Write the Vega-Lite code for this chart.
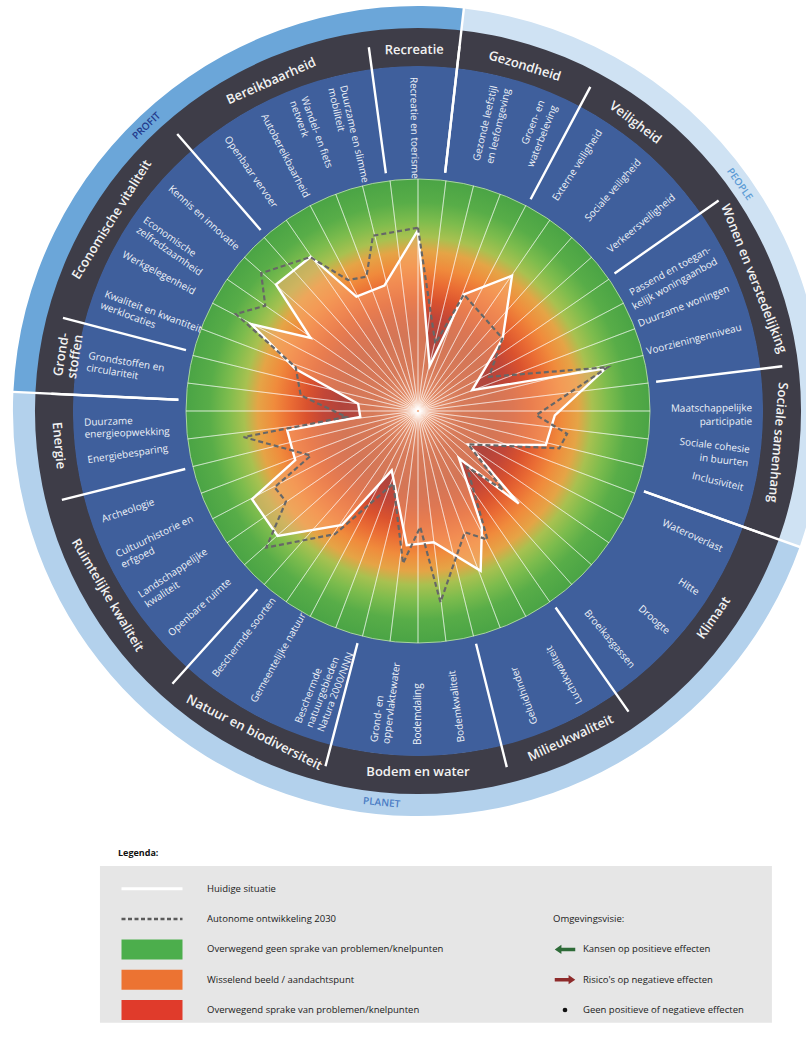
{
  "$schema": "https://vega.github.io/schema/vega-lite/v6.json",
  "width": 806,
  "height": 1043,
  "autosize": {"type": "none"},
  "padding": 0,
  "background": "#ffffff",
  "config": {"view": {"stroke": null}, "text": {"font": "Open Sans"}, "legend": {"disable": true}},
  "datasets": {
    "pijlers": [
      {"pijler": "PROFIT", "a0": -87.3, "a1": 6.5, "la": 316.4},
      {"pijler": "PEOPLE", "a0": 6.5, "a1": 109.6, "la": 54.8},
      {"pijler": "PLANET", "a0": 109.6, "a1": 272.7, "la": 185.3}
    ],
    "themas": [
      {"thema": "Recreatie", "a0": 352.3, "la": 359.4},
      {"thema": "Gezondheid", "a0": 6.5, "la": 17.2},
      {"thema": "Veiligheid", "a0": 28, "la": 37},
      {"thema": "Wonen en verstedelijking", "a0": 55, "la": 68.5},
      {"thema": "Sociale samenhang", "a0": 83, "la": 95},
      {"thema": "Klimaat", "a0": 109.6, "la": 125},
      {"thema": "Milieukwaliteit", "a0": 145, "la": 155},
      {"thema": "Bodem en water", "a0": 166, "la": 180},
      {"thema": "Natuur en biodiversiteit", "a0": 194.6, "la": 207},
      {"thema": "Ruimtelijke kwaliteit", "a0": 222, "la": 239.3},
      {"thema": "Energie", "a0": 256, "la": 264.5},
      {"thema": "Grond-\nstoffen", "a0": 272.7, "la": 279},
      {"thema": "Economische vitaliteit", "a0": 284.7, "la": 302},
      {"thema": "Bereikbaarheid", "a0": 319, "la": 336}
    ],
    "indicatoren": [
      {"naam": "Recreatie en toerisme", "a": 359.2},
      {"naam": "Gezonde leefstijl\nen leefomgeving", "a": 13.2},
      {"naam": "Groen- en\nwaterbeleving", "a": 21.8},
      {"naam": "Externe veiligheid", "a": 33},
      {"naam": "Sociale veiligheid", "a": 41.5},
      {"naam": "Verkeersveiligheid", "a": 50},
      {"naam": "Passend en toegan-\nkelijk woningaanbod", "a": 61},
      {"naam": "Duurzame woningen", "a": 68.5},
      {"naam": "Voorzieningenniveau", "a": 75.5},
      {"naam": "Maatschappelijke\nparticipatie", "a": 89.5},
      {"naam": "Sociale cohesie\nin buurten", "a": 96.7},
      {"naam": "Inclusiviteit", "a": 103.3},
      {"naam": "Wateroverlast", "a": 114.5},
      {"naam": "Hitte", "a": 123},
      {"naam": "Droogte", "a": 131.5},
      {"naam": "Broeikasgassen", "a": 140},
      {"naam": "Luchtkwaliteit", "a": 151},
      {"naam": "Geluidhinder", "a": 159.5},
      {"naam": "Bodemkwaliteit", "a": 172.5},
      {"naam": "Bodemdaling", "a": 180},
      {"naam": "Grond- en\noppervlaktewater", "a": 187.5},
      {"naam": "Beschermde\nnatuurgebieden\nNatura 2000/NNN", "a": 201},
      {"naam": "Gemeentelijke natuur", "a": 209.5},
      {"naam": "Beschermde soorten", "a": 217.5},
      {"naam": "Openbare ruimte", "a": 228},
      {"naam": "Landschappelijke\nkwaliteit", "a": 236.5},
      {"naam": "Cultuurhistorie en\nerfgoed", "a": 244.5},
      {"naam": "Archeologie", "a": 251},
      {"naam": "Energiebesparing", "a": 261.5},
      {"naam": "Duurzame\nenergieopwekking", "a": 268},
      {"naam": "Grondstoffen en\ncirculariteit", "a": 279.5},
      {"naam": "Kwaliteit en kwantiteit\nwerklocaties", "a": 290.5},
      {"naam": "Werkgelegenheid", "a": 298},
      {"naam": "Economische\nzelfredzaamheid", "a": 305},
      {"naam": "Kennis en innovatie", "a": 312},
      {"naam": "Openbaar vervoer", "a": 325},
      {"naam": "Autobereikbaarheid", "a": 332.5},
      {"naam": "Wandel- en fiets\nnetwerk", "a": 340},
      {"naam": "Duurzame en slimme\nmobiliteit", "a": 347}
    ],
    "spaken": [
      {"a": 0}, {"a": 6.92}, {"a": 13.85}, {"a": 20.77}, {"a": 27.69}, {"a": 34.62}, {"a": 41.54}, {"a": 48.46}, {"a": 55.38}, {"a": 62.31}, {"a": 69.23}, {"a": 76.15}, {"a": 83.08},
      {"a": 90}, {"a": 96.92}, {"a": 103.85}, {"a": 110.77}, {"a": 117.69}, {"a": 124.62}, {"a": 131.54}, {"a": 138.46}, {"a": 145.38}, {"a": 152.31}, {"a": 159.23}, {"a": 166.15}, {"a": 173.08},
      {"a": 180}, {"a": 186.92}, {"a": 193.85}, {"a": 200.77}, {"a": 207.69}, {"a": 214.62}, {"a": 221.54}, {"a": 228.46}, {"a": 235.38}, {"a": 242.31}, {"a": 249.23}, {"a": 256.15}, {"a": 263.08},
      {"a": 270}, {"a": 276.92}, {"a": 283.85}, {"a": 290.77}, {"a": 297.69}, {"a": 304.62}, {"a": 311.54}, {"a": 318.46}, {"a": 325.38}, {"a": 332.31}, {"a": 339.23}, {"a": 346.15}, {"a": 353.08}
    ],
    "huidig": [
      {"i": 0, "a": 0, "r": 78}, {"i": 1, "a": 14.5, "r": 20}, {"i": 2, "a": 21.5, "r": 54}, {"i": 3, "a": 34.8, "r": 71},
      {"i": 4, "a": 49.5, "r": 48}, {"i": 5, "a": 69, "r": 25}, {"i": 6, "a": 77.2, "r": 83}, {"i": 7, "a": 91.8, "r": 59},
      {"i": 8, "a": 104.9, "r": 57}, {"i": 9, "a": 123.6, "r": 26}, {"i": 10, "a": 132.6, "r": 59}, {"i": 11, "a": 139.1, "r": 27},
      {"i": 12, "a": 151.1, "r": 57}, {"i": 13, "a": 158.6, "r": 74}, {"i": 14, "a": 173.2, "r": 57}, {"i": 15, "a": 184.8, "r": 58},
      {"i": 16, "a": 203.9, "r": 28}, {"i": 17, "a": 213.7, "r": 59}, {"i": 18, "a": 228.3, "r": 81}, {"i": 19, "a": 242, "r": 81},
      {"i": 20, "a": 248.2, "r": 57}, {"i": 21, "a": 261.6, "r": 57}, {"i": 22, "a": 264.1, "r": 25}, {"i": 23, "a": 277, "r": 26},
      {"i": 24, "a": 289, "r": 56}, {"i": 25, "a": 297.5, "r": 81}, {"i": 26, "a": 304.2, "r": 56}, {"i": 27, "a": 311.7, "r": 82},
      {"i": 28, "a": 325.2, "r": 81}, {"i": 29, "a": 331.7, "r": 56}, {"i": 30, "a": 345, "r": 56}, {"i": 31, "a": 360, "r": 78}
    ],
    "autonoom": [
      {"i": 0, "a": 0, "r": 79}, {"i": 1, "a": 14.4, "r": 30}, {"i": 2, "a": 21.5, "r": 54}, {"i": 3, "a": 49.3, "r": 48},
      {"i": 4, "a": 64.3, "r": 34}, {"i": 5, "a": 77, "r": 84}, {"i": 6, "a": 92, "r": 51}, {"i": 7, "a": 98.7, "r": 65},
      {"i": 8, "a": 104.8, "r": 63}, {"i": 9, "a": 123.6, "r": 26}, {"i": 10, "a": 132.8, "r": 50}, {"i": 11, "a": 138.8, "r": 32},
      {"i": 12, "a": 151.6, "r": 63}, {"i": 13, "a": 158.9, "r": 56}, {"i": 14, "a": 173.3, "r": 83}, {"i": 15, "a": 178.9, "r": 50},
      {"i": 16, "a": 185.6, "r": 66}, {"i": 17, "a": 198.8, "r": 33}, {"i": 18, "a": 214, "r": 64}, {"i": 19, "a": 228, "r": 88},
      {"i": 20, "a": 235.6, "r": 69}, {"i": 21, "a": 242, "r": 70}, {"i": 22, "a": 247.4, "r": 50}, {"i": 23, "a": 261.5, "r": 76},
      {"i": 24, "a": 265.3, "r": 31}, {"i": 25, "a": 277.6, "r": 51}, {"i": 26, "a": 289.7, "r": 56}, {"i": 27, "a": 298, "r": 89},
      {"i": 28, "a": 304.6, "r": 80}, {"i": 29, "a": 311.3, "r": 90}, {"i": 30, "a": 325, "r": 81}, {"i": 31, "a": 331.9, "r": 64},
      {"i": 32, "a": 339, "r": 62}, {"i": 33, "a": 345.6, "r": 78}, {"i": 34, "a": 360, "r": 79}
    ],
    "legenda": [
      {"col": 1, "row": 1, "soort": "lijn", "label": "Huidige situatie"},
      {"col": 1, "row": 2, "soort": "stippel", "label": "Autonome ontwikkeling 2030"},
      {"col": 1, "row": 3, "soort": "vlak", "klasse": "groen", "label": "Overwegend geen sprake van problemen/knelpunten"},
      {"col": 1, "row": 4, "soort": "vlak", "klasse": "oranje", "label": "Wisselend beeld / aandachtspunt"},
      {"col": 1, "row": 5, "soort": "vlak", "klasse": "rood", "label": "Overwegend sprake van problemen/knelpunten"},
      {"col": 2, "row": 2, "soort": "kop", "label": "Omgevingsvisie:"},
      {"col": 2, "row": 3, "soort": "kans", "label": "Kansen op positieve effecten"},
      {"col": 2, "row": 4, "soort": "risico", "label": "Risico's op negatieve effecten"},
      {"col": 2, "row": 5, "soort": "neutraal", "label": "Geen positieve of negatieve effecten"}
    ]
  },
  "resolve": {"scale": {"x": "independent", "y": "independent", "fill": "independent", "color": "independent"}},
  "layer": [
    {
      "layer": [
        {
          "encoding": {
            "x": {"datum": 0, "type": "quantitative", "axis": null, "scale": {"domain": [-180.172, 167.241], "nice": false, "zero": false}},
            "y": {"datum": 0, "type": "quantitative", "axis": null, "scale": {"domain": [-272.414, 177.155], "nice": false, "zero": false}}
          },
          "layer": [
            {
              "data": {"name": "pijlers"},
              "mark": {"type": "arc"},
              "encoding": {
                "theta": {"field": "a0", "type": "quantitative", "stack": null, "scale": {"type": "linear", "domain": [0, 360], "range": [0, 6.283185307179586]}},
                "theta2": {"field": "a1"},
                "radius": {"datum": 174.6, "type": "quantitative", "scale": {"type": "linear", "domain": [0, 100], "range": [0, 232]}},
                "radius2": {"datum": 164},
                "fill": {"field": "pijler", "type": "nominal", "legend": null, "scale": {"domain": ["PROFIT", "PEOPLE", "PLANET"], "range": ["#6ba6d9", "#cfe2f3", "#b3d1ec"]}}
              }
            },
            {
              "data": {"values": [{}]},
              "mark": {"type": "arc", "fill": "#3e3d48"},
              "encoding": {
                "theta": {"datum": 0, "type": "quantitative", "scale": {"type": "linear", "domain": [0, 360], "range": [0, 6.283185307179586]}},
                "theta2": {"datum": 360},
                "radius": {"datum": 165.1, "type": "quantitative", "scale": {"type": "linear", "domain": [0, 100], "range": [0, 232]}},
                "radius2": {"datum": 148.4}
              }
            },
            {
              "data": {"values": [{}]},
              "mark": {"type": "arc", "fill": "#3f5f9c"},
              "encoding": {
                "theta": {"datum": 0, "type": "quantitative", "scale": {"type": "linear", "domain": [0, 360], "range": [0, 6.283185307179586]}},
                "theta2": {"datum": 360},
                "radius": {"datum": 148.7, "type": "quantitative", "scale": {"type": "linear", "domain": [0, 100], "range": [0, 232]}},
                "radius2": {"datum": 99.5}
              }
            },
            {
              "data": {"values": [{}]},
              "mark": {
                "type": "arc",
                "stroke": "#a8d3a0",
                "strokeWidth": 1,
                "fill": {
                  "gradient": "radial",
                  "x1": 0.5, "y1": 0.5, "r1": 0, "x2": 0.5, "y2": 0.5, "r2": 0.5,
                  "stops": [
                    {"offset": 0, "color": "#f2cfc4"},
                    {"offset": 0.04, "color": "#e3a496"},
                    {"offset": 0.1, "color": "#c96e61"},
                    {"offset": 0.19, "color": "#b64d43"},
                    {"offset": 0.33, "color": "#b1443c"},
                    {"offset": 0.41, "color": "#c24637"},
                    {"offset": 0.48, "color": "#da522e"},
                    {"offset": 0.55, "color": "#ea6c34"},
                    {"offset": 0.62, "color": "#f08b3c"},
                    {"offset": 0.69, "color": "#e5a446"},
                    {"offset": 0.75, "color": "#a8c150"},
                    {"offset": 0.82, "color": "#7dbc4d"},
                    {"offset": 0.9, "color": "#58ad48"},
                    {"offset": 1, "color": "#4aa445"}
                  ]
                }
              },
              "encoding": {
                "theta": {"datum": 0, "type": "quantitative", "scale": {"type": "linear", "domain": [0, 360], "range": [0, 6.283185307179586]}},
                "theta2": {"datum": 360},
                "radius": {"datum": 100, "type": "quantitative", "scale": {"type": "linear", "domain": [0, 100], "range": [0, 232]}},
                "radius2": {"datum": 0}
              }
            }
          ]
        },
        {
          "data": {"name": "huidig"},
          "transform": [
            {"calculate": "datum.r * sin(datum.a * PI / 180)", "as": "px"},
            {"calculate": "datum.r * cos(datum.a * PI / 180)", "as": "py"}
          ],
          "mark": {"type": "line", "fill": "#f7a86f", "fillOpacity": 0.5, "strokeOpacity": 0, "strokeWidth": 0},
          "encoding": {
            "x": {"field": "px", "type": "quantitative", "axis": null, "scale": {"domain": [-180.172, 167.241], "nice": false, "zero": false}},
            "y": {"field": "py", "type": "quantitative", "axis": null, "scale": {"domain": [-272.414, 177.155], "nice": false, "zero": false}},
            "order": {"field": "i", "type": "quantitative"}
          }
        },
        {
          "data": {"name": "spaken"},
          "mark": {"type": "arc", "filled": false, "stroke": "#ffffff", "strokeWidth": 0.8, "strokeOpacity": 0.55},
          "encoding": {
            "x": {"datum": 0, "type": "quantitative", "axis": null, "scale": {"domain": [-180.172, 167.241], "nice": false, "zero": false}},
            "y": {"datum": 0, "type": "quantitative", "axis": null, "scale": {"domain": [-272.414, 177.155], "nice": false, "zero": false}},
            "theta": {"field": "a", "type": "quantitative", "stack": null, "scale": {"type": "linear", "domain": [0, 360], "range": [0, 6.283185307179586]}},
            "theta2": {"field": "a"},
            "radius": {"datum": 100, "type": "quantitative", "scale": {"type": "linear", "domain": [0, 100], "range": [0, 232]}},
            "radius2": {"datum": 0.6}
          }
        },
        {
          "data": {"name": "huidig"},
          "transform": [
            {"calculate": "datum.r * sin(datum.a * PI / 180)", "as": "px"},
            {"calculate": "datum.r * cos(datum.a * PI / 180)", "as": "py"}
          ],
          "mark": {"type": "line", "stroke": "#ffffff", "strokeWidth": 2.4, "strokeJoin": "miter"},
          "encoding": {
            "x": {"field": "px", "type": "quantitative", "axis": null, "scale": {"domain": [-180.172, 167.241], "nice": false, "zero": false}},
            "y": {"field": "py", "type": "quantitative", "axis": null, "scale": {"domain": [-272.414, 177.155], "nice": false, "zero": false}},
            "order": {"field": "i", "type": "quantitative"}
          }
        },
        {
          "data": {"name": "autonoom"},
          "transform": [
            {"calculate": "datum.r * sin(datum.a * PI / 180)", "as": "px"},
            {"calculate": "datum.r * cos(datum.a * PI / 180)", "as": "py"}
          ],
          "mark": {"type": "line", "stroke": "#676767", "strokeWidth": 2.2, "strokeDash": [5, 3]},
          "encoding": {
            "x": {"field": "px", "type": "quantitative", "axis": null, "scale": {"domain": [-180.172, 167.241], "nice": false, "zero": false}},
            "y": {"field": "py", "type": "quantitative", "axis": null, "scale": {"domain": [-272.414, 177.155], "nice": false, "zero": false}},
            "order": {"field": "i", "type": "quantitative"}
          }
        },
        {
          "encoding": {
            "x": {"datum": 0, "type": "quantitative", "axis": null, "scale": {"domain": [-180.172, 167.241], "nice": false, "zero": false}},
            "y": {"datum": 0, "type": "quantitative", "axis": null, "scale": {"domain": [-272.414, 177.155], "nice": false, "zero": false}}
          },
          "layer": [
            {
              "data": {"name": "themas"},
              "mark": {"type": "arc", "filled": false, "stroke": "#ffffff", "strokeWidth": 2.4},
              "encoding": {
                "theta": {"field": "a0", "type": "quantitative", "stack": null, "scale": {"type": "linear", "domain": [0, 360], "range": [0, 6.283185307179586]}},
                "theta2": {"field": "a0"},
                "radius": {"datum": 158.2, "type": "quantitative", "scale": {"type": "linear", "domain": [0, 100], "range": [0, 232]}},
                "radius2": {"datum": 103.4}
              }
            },
            {
              "data": {"name": "pijlers"},
              "mark": {"type": "arc", "filled": false, "stroke": "#ffffff", "strokeWidth": 2.4},
              "encoding": {
                "theta": {"field": "a0", "type": "quantitative", "stack": null, "scale": {"type": "linear", "domain": [0, 360], "range": [0, 6.283185307179586]}},
                "theta2": {"field": "a0"},
                "radius": {"datum": 177, "type": "quantitative", "scale": {"type": "linear", "domain": [0, 100], "range": [0, 232]}},
                "radius2": {"datum": 103.4}
              }
            },
            {
              "data": {"name": "themas"},
              "transform": [
                {"calculate": "datum.la > 270 ? datum.la - 360 : (datum.la > 100 ? datum.la - 180 : datum.la)", "as": "rot"}
              ],
              "mark": {"type": "text", "fontSize": 13, "fontWeight": 600, "fill": "#f2f2f2", "align": "center", "baseline": "middle", "lineBreak": "\n", "lineHeight": 14},
              "encoding": {
                "theta": {"field": "la", "type": "quantitative", "scale": {"type": "linear", "domain": [0, 360], "range": [0, 6.283185307179586]}},
                "radius": {"datum": 155.6, "type": "quantitative", "scale": {"type": "linear", "domain": [0, 100], "range": [0, 232]}},
                "text": {"field": "thema"},
                "angle": {"field": "rot", "type": "quantitative", "scale": null}
              }
            },
            {
              "data": {"name": "indicatoren"},
              "transform": [
                {"filter": "datum.a > 5 && datum.a < 146"},
                {"calculate": "datum.a - 90", "as": "rot"}
              ],
              "mark": {"type": "text", "fontSize": 10, "fill": "#eef2f8", "align": "right", "baseline": "middle", "lineBreak": "\n", "lineHeight": 13.5},
              "encoding": {
                "theta": {"field": "a", "type": "quantitative", "scale": {"type": "linear", "domain": [0, 360], "range": [0, 6.283185307179586]}},
                "radius": {"datum": 144, "type": "quantitative", "scale": {"type": "linear", "domain": [0, 100], "range": [0, 232]}},
                "text": {"field": "naam"},
                "angle": {"field": "rot", "type": "quantitative", "scale": null}
              }
            },
            {
              "data": {"name": "indicatoren"},
              "transform": [
                {"filter": "!(datum.a > 5 && datum.a < 146)"},
                {"calculate": "datum.a + 90 > 180 ? datum.a - 270 : datum.a + 90", "as": "rot"}
              ],
              "mark": {"type": "text", "fontSize": 10, "fill": "#eef2f8", "align": "left", "baseline": "middle", "lineBreak": "\n", "lineHeight": 12},
              "encoding": {
                "theta": {"field": "a", "type": "quantitative", "scale": {"type": "linear", "domain": [0, 360], "range": [0, 6.283185307179586]}},
                "radius": {"datum": 144, "type": "quantitative", "scale": {"type": "linear", "domain": [0, 100], "range": [0, 232]}},
                "text": {"field": "naam"},
                "angle": {"field": "rot", "type": "quantitative", "scale": null}
              }
            },
            {
              "data": {"name": "pijlers"},
              "transform": [
                {"calculate": "datum.la > 270 ? datum.la - 360 : (datum.la > 100 ? datum.la - 180 : datum.la)", "as": "rot"}
              ],
              "mark": {"type": "text", "fontSize": 10, "fontWeight": 600, "align": "center", "baseline": "middle"},
              "encoding": {
                "theta": {"field": "la", "type": "quantitative", "scale": {"type": "linear", "domain": [0, 360], "range": [0, 6.283185307179586]}},
                "radius": {"datum": 169.6, "type": "quantitative", "scale": {"type": "linear", "domain": [0, 100], "range": [0, 232]}},
                "text": {"field": "pijler"},
                "angle": {"field": "rot", "type": "quantitative", "scale": null},
                "color": {"field": "pijler", "type": "nominal", "legend": null, "scale": {"domain": ["PROFIT", "PEOPLE", "PLANET"], "range": ["#22398c", "#5b9bd5", "#4a7cc4"]}}
              }
            }
          ]
        }
      ]
    },
    {
      "layer": [
        {
          "data": {"values": [{}]},
          "mark": {"type": "rect", "fill": "#e6e6e6"},
          "encoding": {
            "x": {"datum": 0.874, "type": "quantitative", "axis": null, "scale": {"domain": [1, 2], "range": [152, 565], "nice": false, "zero": false}},
            "x2": {"datum": 2.501},
            "y": {"datum": 0.25, "type": "quantitative", "axis": null, "scale": {"domain": [0, 5], "range": [858.5, 1010], "nice": false, "zero": false}},
            "y2": {"datum": 5.42}
          }
        },
        {
          "data": {"values": [{"titel": "Legenda:"}]},
          "mark": {"type": "text", "fontSize": 9, "fontWeight": "bold", "fill": "#111111", "align": "left", "baseline": "middle"},
          "encoding": {
            "x": {"datum": 0.9177, "type": "quantitative", "axis": null, "scale": {"domain": [1, 2], "range": [152, 565], "nice": false, "zero": false}},
            "y": {"datum": -0.18, "type": "quantitative", "axis": null, "scale": {"domain": [0, 5], "range": [858.5, 1010], "nice": false, "zero": false}},
            "text": {"field": "titel"}
          }
        },
        {
          "data": {"name": "legenda"},
          "encoding": {
            "x": {"field": "col", "type": "quantitative", "axis": null, "scale": {"domain": [1, 2], "range": [152, 565], "nice": false, "zero": false}},
            "y": {"field": "row", "type": "quantitative", "axis": null, "scale": {"domain": [0, 5], "range": [858.5, 1010], "nice": false, "zero": false}}
          },
          "layer": [
            {
              "transform": [{"filter": "datum.soort == 'lijn'"}],
              "mark": {"type": "rule", "stroke": "#ffffff", "strokeWidth": 3, "xOffset": -30.5, "x2Offset": 30.5},
              "encoding": {"x2": {"field": "col"}}
            },
            {
              "transform": [{"filter": "datum.soort == 'stippel'"}],
              "mark": {"type": "rule", "stroke": "#5a5a5a", "strokeWidth": 2.5, "strokeDash": [4, 2.5], "xOffset": -30.5, "x2Offset": 30.5},
              "encoding": {"x2": {"field": "col"}}
            },
            {
              "transform": [{"filter": "datum.soort == 'vlak'"}],
              "mark": {"type": "rect", "xOffset": -30.5, "x2Offset": 30.5, "yOffset": -10, "y2Offset": 10},
              "encoding": {
                "x2": {"field": "col"},
                "y2": {"field": "row"},
                "fill": {"field": "klasse", "type": "nominal", "legend": null, "scale": {"domain": ["groen", "oranje", "rood"], "range": ["#4cae4c", "#ec7332", "#e03b2b"]}}
              }
            },
            {
              "transform": [{"filter": "datum.soort == 'kans'"}],
              "mark": {"type": "point", "filled": true, "shape": "M -1 0 L -0.35 -0.45 L -0.35 -0.17 L 1 -0.17 L 1 0.17 L -0.35 0.17 L -0.35 0.45 Z", "size": 420, "fill": "#2e6b38", "strokeWidth": 0, "opacity": 1}
            },
            {
              "transform": [{"filter": "datum.soort == 'risico'"}],
              "mark": {"type": "point", "filled": true, "shape": "M 1 0 L 0.35 -0.45 L 0.35 -0.17 L -1 -0.17 L -1 0.17 L 0.35 0.17 L 0.35 0.45 Z", "size": 420, "fill": "#8e2b2b", "strokeWidth": 0, "opacity": 1}
            },
            {
              "transform": [{"filter": "datum.soort == 'neutraal'"}],
              "mark": {"type": "circle", "size": 22, "fill": "#111111", "opacity": 1}
            },
            {
              "transform": [{"filter": "datum.col == 1"}],
              "mark": {"type": "text", "fontSize": 9.5, "fill": "#1b1b1b", "align": "left", "baseline": "middle", "dx": 55},
              "encoding": {"text": {"field": "label"}}
            },
            {
              "transform": [{"filter": "datum.soort == 'kop'"}],
              "mark": {"type": "text", "fontSize": 9.5, "fill": "#1b1b1b", "align": "left", "baseline": "middle", "dx": -12},
              "encoding": {"text": {"field": "label"}}
            },
            {
              "transform": [{"filter": "datum.col == 2 && datum.soort != 'kop'"}],
              "mark": {"type": "text", "fontSize": 9.5, "fill": "#1b1b1b", "align": "left", "baseline": "middle", "dx": 18},
              "encoding": {"text": {"field": "label"}}
            }
          ]
        }
      ]
    }
  ]
}
